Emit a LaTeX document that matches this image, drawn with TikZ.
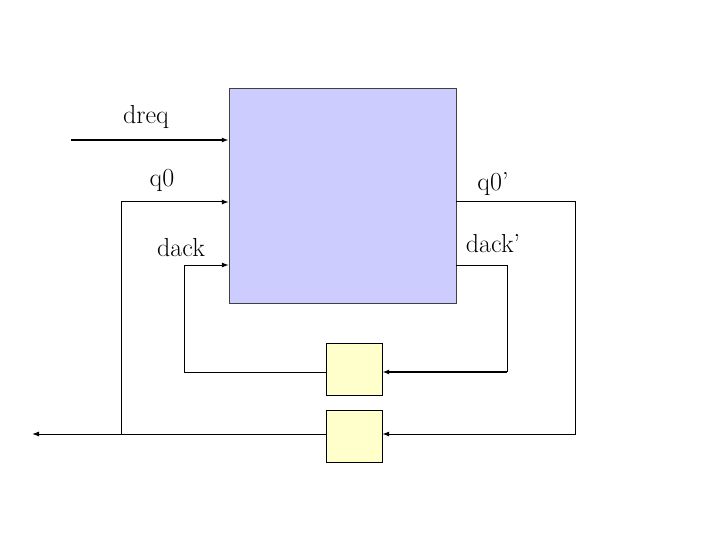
\documentclass[tikz,border=0pt]{standalone}
\usepackage{tikz}
\usetikzlibrary{arrows.meta,calc,positioning}
\definecolor{blockblue}{HTML}{CCCCFF}
\definecolor{delayyellow}{HTML}{FFFFCC}

\begin{document}
\begin{tikzpicture}[
        x=1pt, y=-1pt,
        >={Latex[length=7pt,width=5pt]},
        block/.style={draw=black!75, fill=blockblue, minimum width=227pt, minimum height=215pt, inner sep=0pt},
        delay/.style={draw, fill=delayyellow, minimum width=56pt, minimum height=52pt, inner sep=0pt},
        lbl/.style={font=\fontsize{26}{30}\selectfont},
        wire/.style={line width=1pt},
        arrow/.style={->, line width=1pt},
        busarrow/.style={->, line width=2pt}
    ]
        \useasboundingbox (0,0) rectangle (720,540);
        \node[block] (main) at (342.5,195.5) {};
        \node[delay] (dlya) at (354,369) {};
        \node[delay] (dlyb) at (354,436.5) {};
        % corner points of the feedback wires
        \coordinate (dreqin) at (71,140);
        \coordinate (qa) at (575,202);
        \coordinate (qb) at (575,434);
        \coordinate (qc) at (121,434);
        \coordinate (qout) at (32,434);
        \coordinate (da) at (507,265);
        \coordinate (db) at (507,372);
        \coordinate (dc) at (184,372);
        \draw[busarrow] (dreqin) -- (dreqin -| main.west);
        \draw[arrow] (main.east |- qa) -- (qa) -- (qb) -- (qb -| dlyb.east);
        \draw[arrow] (dlyb.west |- qb) -- (qout);
        \draw[arrow] (qc) |- (main.west |- qa);
        \draw[wire] (main.east |- da) -| (db);
        \draw[busarrow] (db) -- (db -| dlya.east);
        \draw[arrow] (dlya.west |- db) -- (dc) |- (main.west |- da);
        % labels
        \node[lbl] (ldreq) at (146,117) {dreq};
        \node[lbl] (lq) at (162,180) {q0};
        \node[lbl] (ldack) at (181,248) {dack};
        \node[lbl] (lqp) at (493,184) {q0'};
        \node[lbl] (ldackp) at (493,244) {dack'};
    \end{tikzpicture}
\end{document}
